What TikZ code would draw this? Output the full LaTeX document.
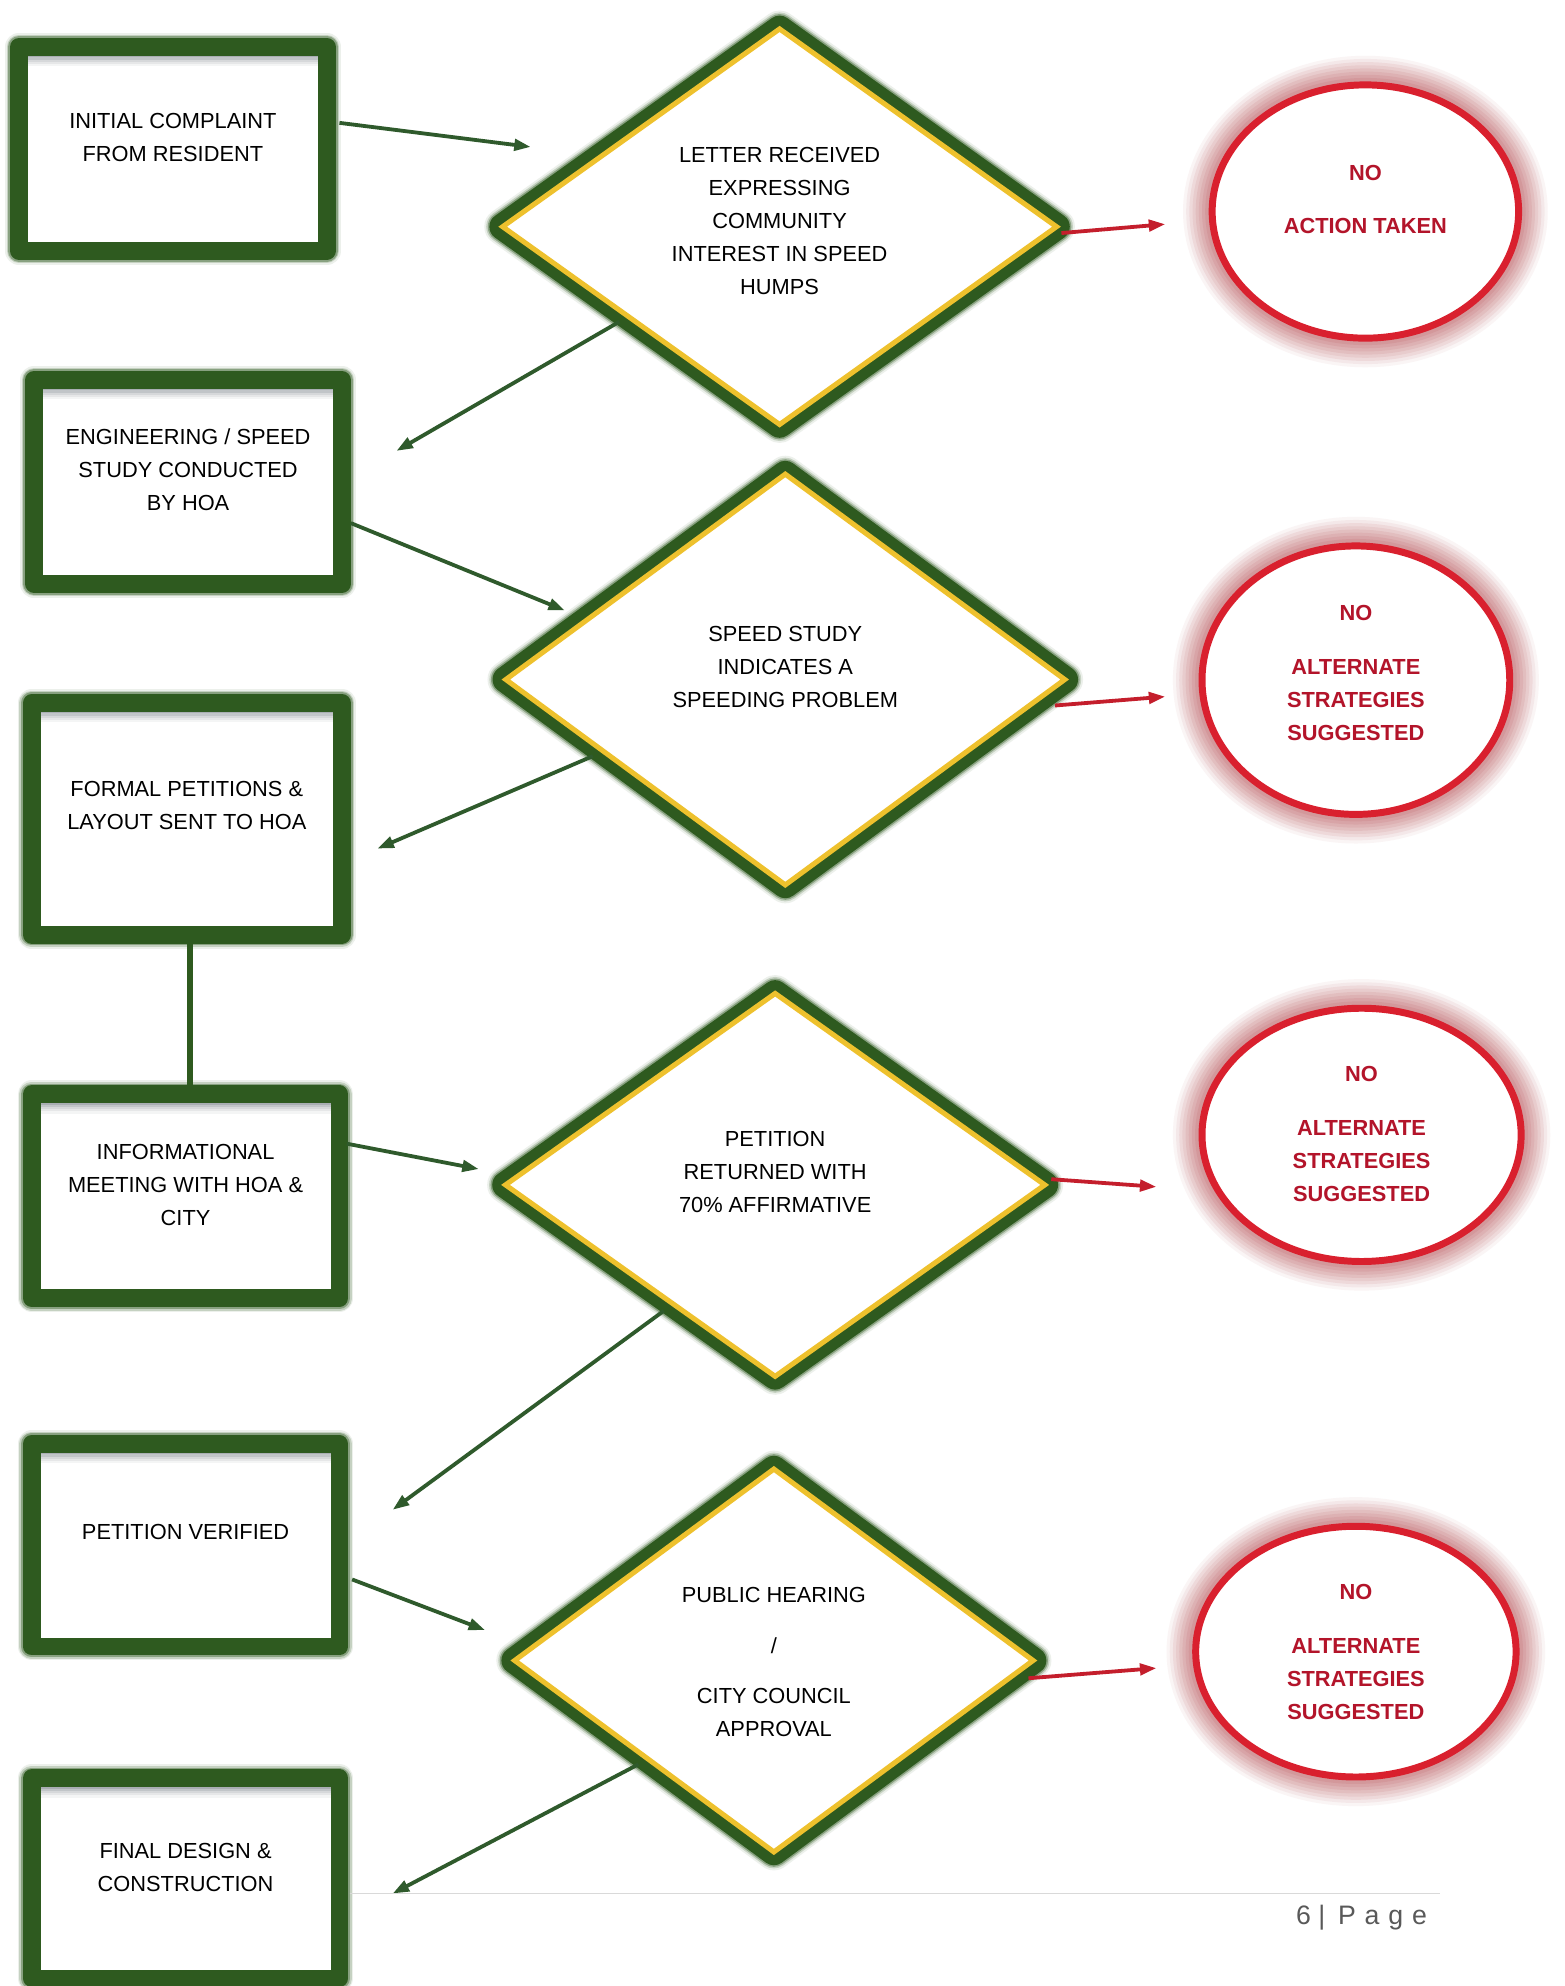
\documentclass[tikz,border=0pt]{standalone}
\usepackage{fontspec}
\setmainfont{Liberation Sans}
\usetikzlibrary{shapes.geometric,arrows.meta}
\definecolor{dgreen}{HTML}{2E5A1F}
\definecolor{agreen}{HTML}{2F5A2C}
\definecolor{gold}{HTML}{EEC12D}
\definecolor{ered}{HTML}{D9202E}
\definecolor{tred}{HTML}{B3142A}
\definecolor{glowred}{HTML}{BA5A5E}
\definecolor{ared}{HTML}{C41E2C}
\definecolor{pggray}{HTML}{595959}
\definecolor{shadowc}{HTML}{34404A}
\newcommand{\tx}[2]{\raisebox{#1}[\height][\depth]{\begin{tabular}{@{}c@{}}#2\end{tabular}}}
\begin{document}
\begin{tikzpicture}[x=0.02cm,y=-0.02cm,
  txtfont/.style={font=\fontsize{9.8}{14.8}\selectfont},
  gbox/.style={rectangle, inner sep=0, fill=white, draw=dgreen, line width=0.28cm, line join=round, txtfont,
    preaction={draw=dgreen!60, line width=0.44cm, line join=round, opacity=0.15},
    preaction={draw=dgreen!70, line width=0.39cm, line join=round, opacity=0.3},
    preaction={draw=dgreen!85, line width=0.34cm, line join=round, opacity=0.5},
    path picture={\foreach \k/\o in {0/0.42,1/0.3,2/0.2,3/0.12,4/0.05} {\fill[shadowc, opacity=\o] ([yshift=-0.13cm-\k*0.035cm]path picture bounding box.north west) rectangle ([yshift=-0.165cm-\k*0.035cm]path picture bounding box.north east);}}},
  gdia/.style={diamond, inner sep=0, fill=white, draw=gold, line width=0.08cm, txtfont,
    preaction={draw=dgreen!60, line width=0.58cm, line join=round, opacity=0.15},
    preaction={draw=dgreen!70, line width=0.52cm, line join=round, opacity=0.3},
    preaction={draw=dgreen!85, line width=0.47cm, line join=round, opacity=0.5},
    preaction={draw=dgreen, line width=0.42cm, line join=round}},
  rell/.style={ellipse, inner sep=0, fill=white, draw=ered, line width=0.11cm, text=tred,
    font=\fontsize{9.8}{14.8}\selectfont\bfseries,
    preaction={draw=glowred, line width=0.92cm, opacity=0.06},
    preaction={draw=glowred, line width=0.82cm, opacity=0.08},
    preaction={draw=glowred, line width=0.72cm, opacity=0.1},
    preaction={draw=glowred, line width=0.62cm, opacity=0.1},
    preaction={draw=glowred, line width=0.52cm, opacity=0.12},
    preaction={draw=glowred, line width=0.42cm, opacity=0.12},
    preaction={draw=glowred, line width=0.32cm, opacity=0.14},
    preaction={draw=glowred, line width=0.22cm, opacity=0.16}},
  garrow/.style={draw=agreen, line width=0.06cm, -{Triangle[length=0.26cm,width=0.18cm]}},
  rarrow/.style={draw=ared, line width=0.06cm, -{Triangle[length=0.26cm,width=0.18cm]}},
  gline/.style={draw=dgreen, line width=0.1cm}
]
\fill[white] (0,0) rectangle (1235,1568);
\useasboundingbox (0,0) rectangle (1235,1568);

% left boxes
\node[gbox, minimum width=4.86cm, minimum height=3.22cm] (b1) at (136.5,117.5)
  {\tx{0.16cm}{INITIAL COMPLAINT\\FROM RESIDENT}};
\node[gbox, minimum width=4.86cm, minimum height=3.22cm] (b2) at (148.5,380.5)
  {\tx{0.17cm}{ENGINEERING / SPEED\\STUDY CONDUCTED\\BY HOA}};
\node[gbox, minimum width=4.9cm, minimum height=3.66cm] (b3) at (147.5,646.5)
  {\tx{0.19cm}{FORMAL PETITIONS \&\\LAYOUT SENT TO HOA}};
\node[gbox, minimum width=4.86cm, minimum height=3.22cm] (b4) at (146.5,944.5)
  {\tx{0.17cm}{INFORMATIONAL\\MEETING WITH HOA \&\\CITY}};
\node[gbox, minimum width=4.86cm, minimum height=3.2cm] (b5) at (146.5,1220)
  {\tx{0.2cm}{PETITION VERIFIED}};
\node[gbox, minimum width=4.86cm, minimum height=3.16cm] (b6) at (146.5,1483)
  {\tx{0.16cm}{FINAL DESIGN \&\\CONSTRUCTION}};

\draw[gline] ([xshift=0.05cm]b3.south) -- ([xshift=0.05cm]b3.south |- b4.north);

% diamonds
\node[gdia, minimum width=8.78cm, minimum height=6.28cm] (d1) at (615.5,179)
  {\tx{0.08cm}{LETTER RECEIVED\\EXPRESSING\\COMMUNITY\\INTEREST IN SPEED\\HUMPS}};
\node[gdia, minimum width=8.86cm, minimum height=6.52cm] (d2) at (620,536.5)
  {\tx{0.19cm}{SPEED STUDY\\INDICATES A\\SPEEDING PROBLEM}};
\node[gdia, minimum width=8.55cm, minimum height=6.08cm] (d3) at (612,935.5)
  {\tx{0.19cm}{PETITION\\RETURNED WITH\\70\% AFFIRMATIVE}};
\node[gdia, minimum width=8.22cm, minimum height=6.08cm] (d4) at (611,1311)
  {\tx{-0.04cm}{PUBLIC HEARING\\[0.28cm]/\\[0.28cm]CITY COUNCIL\\APPROVAL}};

% ellipses
\node[rell, minimum width=4.84cm, minimum height=4.0cm] (e1) at (1078,167)
  {\tx{0.18cm}{NO\\[0.32cm]ACTION TAKEN}};
\node[rell, minimum width=4.86cm, minimum height=4.24cm] (e2) at (1070.5,537)
  {\tx{0.1cm}{NO\\[0.34cm]ALTERNATE\\STRATEGIES\\SUGGESTED}};
\node[rell, minimum width=5.04cm, minimum height=4.0cm] (e3) at (1075,896)
  {\tx{0cm}{NO\\[0.34cm]ALTERNATE\\STRATEGIES\\SUGGESTED}};
\node[rell, minimum width=5.06cm, minimum height=3.96cm] (e4) at (1070.5,1304)
  {\tx{-0.02cm}{NO\\[0.34cm]ALTERNATE\\STRATEGIES\\SUGGESTED}};

% connector end points
\coordinate (a1s) at (268,97);   \coordinate (a1e) at (419,116);
\coordinate (a2s) at (489,254);  \coordinate (a2e) at (313,356);
\coordinate (a3s) at (277,413);  \coordinate (a3e) at (446,482);
\coordinate (a4s) at (468,597);  \coordinate (a4e) at (298,670);
\coordinate (a5s) at (274,903);  \coordinate (a5e) at (378,923);
\coordinate (a6s) at (524,1035); \coordinate (a6e) at (310,1192);
\coordinate (a7s) at (278,1247); \coordinate (a7e) at (383,1287);
\coordinate (a8s) at (504,1393); \coordinate (a8e) at (310,1495);
\coordinate (r1s) at (838,184);  \coordinate (r1e) at (920,177);
\coordinate (r2s) at (833,557);  \coordinate (r2e) at (920,550);
\coordinate (r3s) at (830,931);  \coordinate (r3e) at (913,937);
\coordinate (r4s) at (812,1325); \coordinate (r4e) at (913,1317);

\foreach \i in {1,...,8} {\draw[garrow] (a\i s) -- (a\i e);}
\foreach \i in {1,...,4} {\draw[rarrow] (r\i s) -- (r\i e);}

% footer
\draw[gray!30, line width=0.6pt] (276,1495) -- (1137,1495);
\node[anchor=east, text=pggray, font=\fontsize{12}{14}\selectfont, inner sep=0] (pg) at (1127,1514)
  {6\hspace{0.12cm}|\hspace{0.2cm}P\hspace{0.14cm}a\hspace{0.14cm}g\hspace{0.14cm}e};
\end{tikzpicture}
\end{document}
